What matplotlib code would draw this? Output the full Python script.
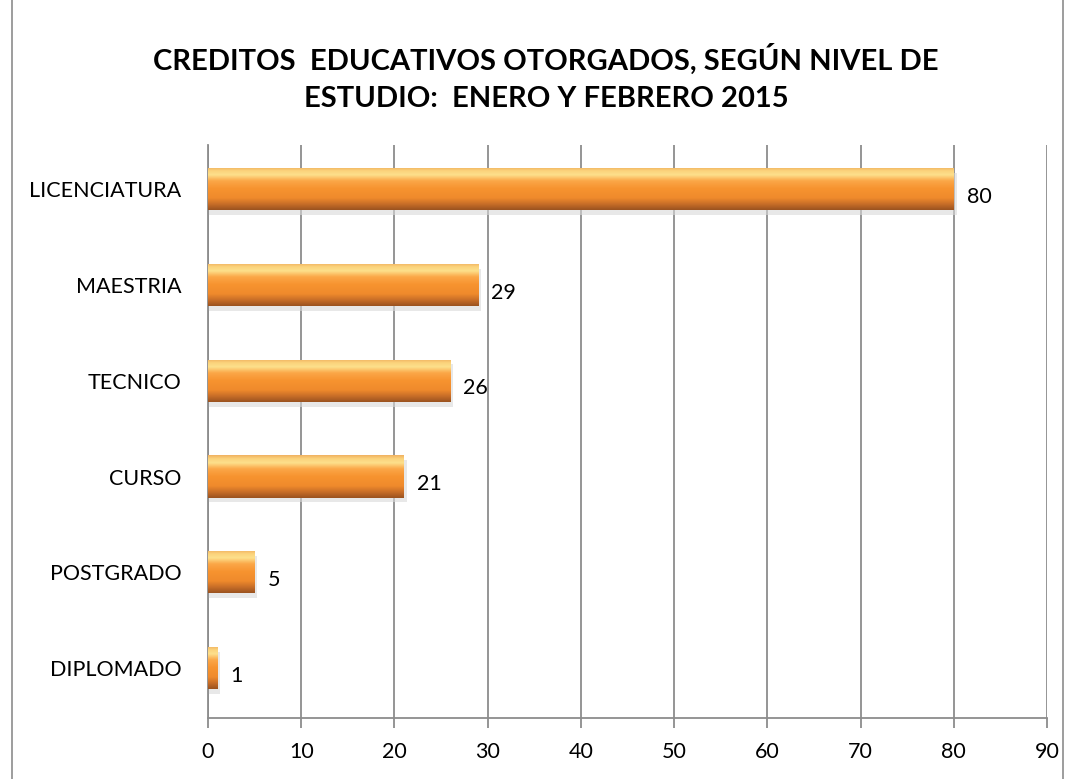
import matplotlib
matplotlib.use("Agg")
import matplotlib.pyplot as plt
import numpy as np
from matplotlib.colors import LinearSegmentedColormap
from matplotlib.patches import Rectangle

categories = ["DIPLOMADO", "POSTGRADO", "CURSO", "TECNICO", "MAESTRIA", "LICENCIATURA"]
values = [1, 5, 21, 26, 29, 80]
xticks = [0, 10, 20, 30, 40, 50, 60, 70, 80, 90]
title = "CREDITOS  EDUCATIVOS OTORGADOS, SEGÚN NIVEL DE\nESTUDIO:  ENERO Y FEBRERO 2015"

plt.rcParams['font.family'] = ['Lato', 'DejaVu Sans']

fig = plt.figure(figsize=(10.76, 7.79), dpi=100)
# outer border
fig.patches.append(Rectangle((12/1076, 1 - 1/779 - 1.0), (1063-12)/1076, 1 - 9/779 + 1.0,
                             transform=fig.transFigure, fill=False, edgecolor='#8c8c8c', lw=1.2))

ax = fig.add_axes([208/1076, 1 - 718/779, (1047-208)/1076, (718-145)/779])

cmap = LinearSegmentedColormap.from_list("bar", [
    (0.0, "#f0b060"), (0.08, "#fbd27a"), (0.18, "#fde08c"), (0.32, "#fba748"),
    (0.5, "#f7932f"), (0.72, "#ef8a2c"), (0.86, "#c86e28"), (1.0, "#9a5220")])
grad = np.linspace(0, 1, 256).reshape(-1, 1)

h = 0.44
for i, v in enumerate(values):
    # shadow
    sh = Rectangle((0, i - h/2 - 0.05), v + 0.3, h, facecolor='#d9d9d9', edgecolor='none',
                   alpha=0.6, zorder=2)
    ax.add_patch(sh)
    rect = Rectangle((0, i - h/2), v, h, facecolor='none', edgecolor='none', zorder=3)
    ax.add_patch(rect)
    im = ax.imshow(grad, cmap=cmap, aspect='auto', extent=(0, v, i - h/2, i + h/2),
                   origin='upper', zorder=3, interpolation='bilinear')
    im.set_clip_path(rect)
    ax.text(v + 1.4, i - 0.08, str(v), va='center', ha='left', fontsize=15.5, color='black', zorder=4)

ax.set_xlim(0, 90)
ax.set_ylim(-0.52, 5.46)
ax.set_xticks(xticks)
ax.set_yticks(range(len(categories)))
ax.set_yticklabels(categories)
ax.grid(axis='x', color='#8c8c8c', lw=1.3, zorder=1)
ax.set_axisbelow(True)
for s in ['top', 'right']:
    ax.spines[s].set_visible(False)
for s in ['left', 'bottom']:
    ax.spines[s].set_color('#8c8c8c')
    ax.spines[s].set_linewidth(1.3)
ax.tick_params(axis='x', length=7, color='#8c8c8c', width=1.3, labelsize=15.5, pad=10)
ax.tick_params(axis='y', length=0, labelsize=15.5, pad=19)

fig.text(0.5 + 8/1076, 1 - 78/779, title, ha='center', va='center', fontsize=21,
         fontweight='bold', linespacing=1.5)

fig.savefig("out.png", dpi=100)
